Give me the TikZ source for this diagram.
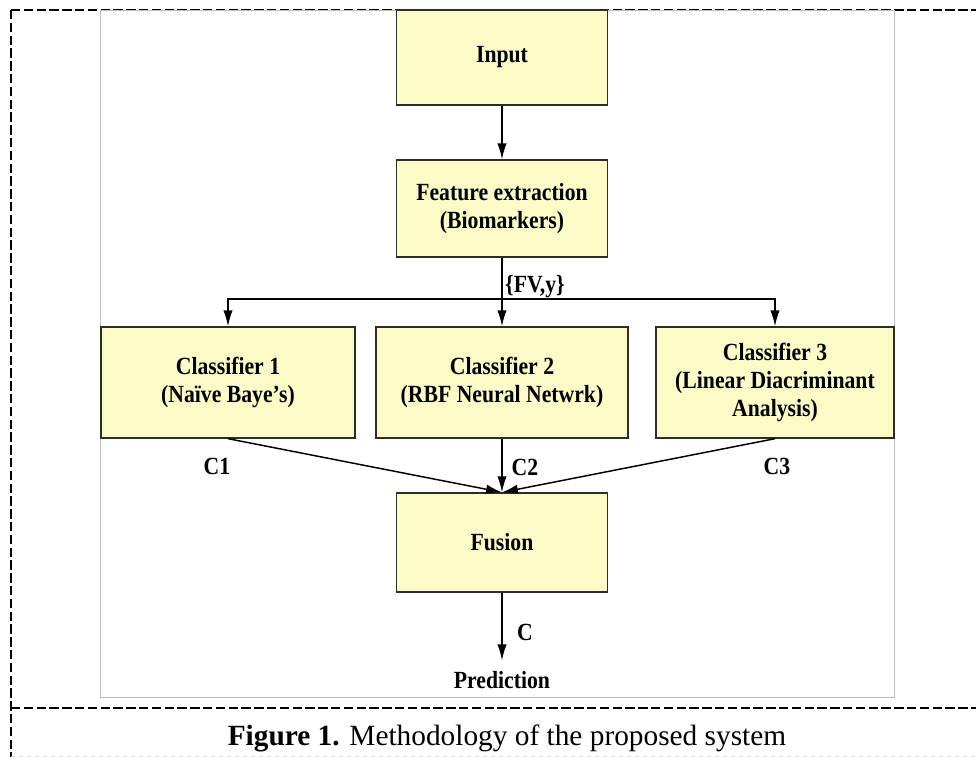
\documentclass[tikz,border=0pt]{standalone}
\usepackage{fontspec}
\setmainfont{Liberation Serif}
\newfontfamily\diagfont[FakeStretch=0.88]{Liberation Serif}
\usetikzlibrary{arrows.meta}

\definecolor{boxfill}{RGB}{251,251,199}
\definecolor{boxline}{RGB}{45,45,40}
\definecolor{framegray}{RGB}{190,190,190}

\begin{document}
\begin{tikzpicture}[x=0.75pt,y=-0.75pt,
  stagebox/.style={draw=boxline,line width=1pt,fill=boxfill,align=center,
    inner sep=0pt,font=\diagfont\fontsize{18.5pt}{21pt}\selectfont\bfseries},
  flow/.style={draw=black,line width=1.1pt,-{Latex[length=12pt,width=7pt]}},
  tag/.style={font=\diagfont\fontsize{18.5pt}{20pt}\selectfont\bfseries,inner sep=0pt},
  border/.style={line width=1.5pt,dash pattern=on 7pt off 2.6pt}]

\useasboundingbox (0,0) rectangle (976,757);

% outer dashed box and the caption strip below it
\draw[border] (11,10) -- (976,10);
\draw[border] (11,10) -- (11,757);
\draw[border] (11,708) -- (976,708);
\draw[framegray!70,line width=0.75pt,dashed] (11,756) -- (976,756);

% frame of the diagram panel
\draw[framegray,line width=0.75pt] (100,10) rectangle (894,697);

% processing stages
\node[stagebox,minimum width={211*0.75pt},minimum height={95*0.75pt}] (inp) at (502,57.5) {Input};
\node[stagebox,minimum width={211*0.75pt},minimum height={97*0.75pt}] (feat) at (502,208.5) {Feature extraction\\(Biomarkers)};
\node[stagebox,minimum width={254*0.75pt},minimum height={111*0.75pt}] (c1) at (228,382.5) {Classifier 1\\(Naïve Baye’s)};
\node[stagebox,minimum width={252*0.75pt},minimum height={111*0.75pt}] (c2) at (502,382.5) {Classifier 2\\(RBF Neural Netwrk)};
\node[stagebox,minimum width={238*0.75pt},minimum height={111*0.75pt}] (c3) at (775,382.5) {Classifier 3\\(Linear Diacriminant\\Analysis)};
\node[stagebox,minimum width={211*0.75pt},minimum height={99*0.75pt}] (fus) at (502,542.5) {Fusion};
\node[tag] (pred) at (502,680) {Prediction};

% feature vectors split to the three classifiers
\coordinate (split) at (502,299);
\draw[flow] (inp) -- (feat);
\draw[flow] (feat) -- (c2);
\draw[flow] (split) -| (c1.north);
\draw[flow] (split) -| (c3.north);

% classifier decisions into the fusion stage
\draw[flow] (c1.south) -- (fus.north);
\draw[flow] (c2.south) -- (fus.north);
\draw[flow] (c3.south) -- (fus.north);
\draw[flow,shorten >=8pt] (fus.south) -- (pred.north);

% connector labels
\node[tag] (fv) at (535,287) {\{FV,y\}};
\node[tag] (l1) at (217,466) {C1};
\node[tag] (l2) at (525,467) {C2};
\node[tag] (l3) at (777,466) {C3};
\node[tag] (lc) at (525,632) {C};

% caption
\node[font=\fontsize{22pt}{26pt}\selectfont,inner sep=0pt] (cap) at (507,738)
  {\textbf{Figure 1.} Methodology of the proposed system};
\end{tikzpicture}
\end{document}
